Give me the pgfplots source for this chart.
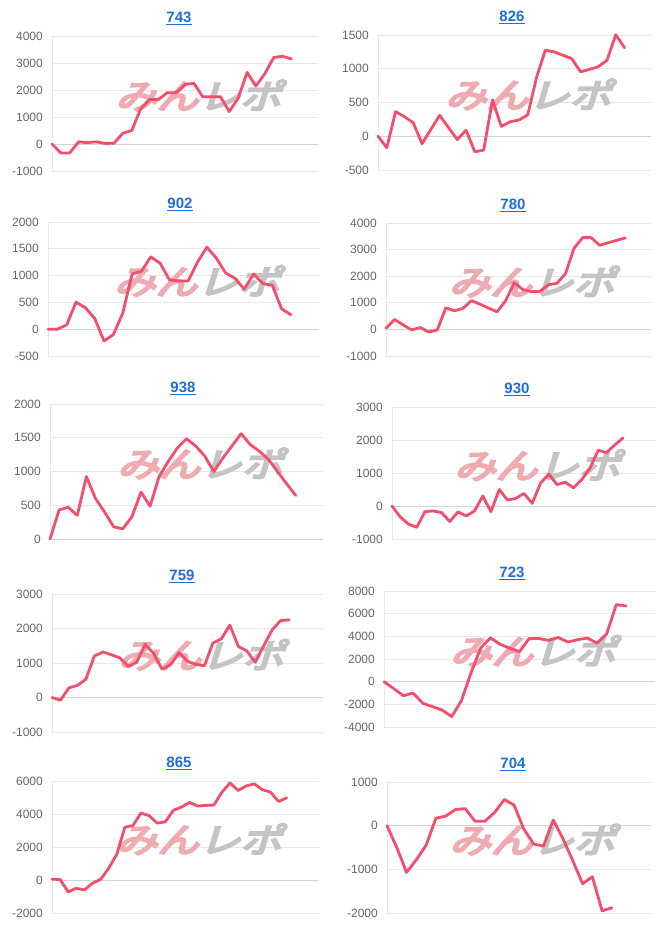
\documentclass[border=0pt]{standalone}
\usepackage{pgfplots}
\pgfplotsset{compat=1.18}
\usepackage{fontspec}
\setmainfont{Liberation Sans}
\newfontfamily\cjk[FakeSlant=0.25,FakeBold=6]{Noto Sans CJK JP}
\definecolor{linec}{RGB}{243,78,108}
\definecolor{gridc}{RGB}{232,232,232}
\definecolor{zeroc}{RGB}{212,212,212}
\definecolor{labelc}{RGB}{102,102,102}
\definecolor{titlec}{RGB}{30,110,215}
\definecolor{wmred}{RGB}{238,172,178}
\definecolor{wmgray}{RGB}{196,196,196}
\pgfplotsset{
  mini/.style={
    scale only axis, anchor=south west, xmin=0,
    axis x line*=bottom, axis y line*=left,
    x axis line style={draw=none},
    y axis line style={-, draw=gridc, line width=0.9pt},
    xtick=\empty,
    ymajorgrids, grid style={draw=gridc, line width=0.9pt},
    major tick length=0pt,
    tick style={draw=none},
    yticklabel style={font=\fontsize{12}{12}\selectfont, text=labelc, inner sep=0pt, xshift=-9pt},
    /pgf/number format/assume math mode=true,
    /pgf/number format/set thousands separator={},
    extra y ticks={0}, extra y tick labels={},
    extra y tick style={grid style={draw=zeroc, line width=0.9pt}},
    clip=false,
  },
  ser/.style={linec, line width=2.8pt, line join=round, line cap=round, mark=none},
}
\newcommand{\wm}{\node[inner sep=0pt, xscale=1.22, font=\fontsize{34}{34}\selectfont] at (rel axis cs:0.55,0.56) {\cjk\textcolor{wmred}{みん}\textcolor{wmgray}{レポ}};}
\newcommand{\ttl}[3]{\node[anchor=base, inner sep=0pt, text=titlec, font=\bfseries\fontsize{15}{15}\selectfont] at (#1pt,#2pt) {\underline{#3}};}
\begin{document}
\begin{tikzpicture}
\path[use as bounding box] (0,0) rectangle (666pt,927pt);
% P1 743
\begin{axis}[mini, at={(52pt,756pt)}, width=266pt, height=135pt, xmax=30, ymin=-1000, ymax=4000, ytick={-1000,0,...,4000}]
\wm
\addplot[ser] coordinates {(0,0)(1,-330)(2,-330)(3,80)(4,50)(5,80)(6,20)(7,30)(8,400)(9,500)(10,1300)(11,1650)(12,1650)(13,1900)(14,1900)(15,2200)(16,2250)(17,1750)(18,1750)(19,1750)(20,1200)(21,1700)(22,2650)(23,2150)(24,2600)(25,3200)(26,3250)(27,3150)};
\end{axis}
% P2 826
\begin{axis}[mini, at={(378pt,757pt)}, width=273pt, height=135pt, xmax=31, ymin=-500, ymax=1500, ytick={-500,0,...,1500}]
\wm
\addplot[ser] coordinates {(0,0)(1,-170)(2,365)(3,290)(4,200)(5,-110)(6,100)(7,310)(8,130)(9,-50)(10,90)(11,-230)(12,-205)(13,540)(14,145)(15,215)(16,240)(17,315)(18,870)(19,1275)(20,1250)(21,1200)(22,1150)(23,955)(24,990)(25,1030)(26,1125)(27,1505)(28,1310)};
\end{axis}
% P3 902
\begin{axis}[mini, at={(48pt,571pt)}, width=271pt, height=134pt, xmax=29, ymin=-500, ymax=2000, ytick={-500,0,...,2000}]
\wm
\addplot[ser] coordinates {(0,0)(1,0)(2,80)(3,505)(4,400)(5,200)(6,-220)(7,-100)(8,300)(9,1030)(10,1080)(11,1350)(12,1230)(13,920)(14,900)(15,900)(16,1250)(17,1530)(18,1330)(19,1050)(20,950)(21,750)(22,1030)(23,850)(24,820)(25,380)(26,270)};
\end{axis}
% P4 780
\begin{axis}[mini, at={(386pt,571pt)}, width=265pt, height=133pt, xmax=31, ymin=-1000, ymax=4000, ytick={-1000,0,...,4000}]
\wm
\addplot[ser] coordinates {(0,50)(1,370)(2,170)(3,-20)(4,70)(5,-100)(6,-20)(7,810)(8,700)(9,790)(10,1080)(11,950)(12,800)(13,660)(14,1080)(15,1760)(16,1500)(17,1420)(18,1430)(19,1680)(20,1730)(21,2100)(22,3050)(23,3450)(24,3450)(25,3160)(26,3260)(27,3350)(28,3440)};
\end{axis}
% P5 938
\begin{axis}[mini, at={(50pt,388pt)}, width=273pt, height=135pt, xmax=30, ymin=0, ymax=2000, ytick={0,500,...,2000}]
\wm
\addplot[ser] coordinates {(0,0)(1,430)(2,470)(3,350)(4,925)(5,600)(6,400)(7,180)(8,150)(9,330)(10,695)(11,485)(12,930)(13,1150)(14,1350)(15,1485)(16,1380)(17,1230)(18,1000)(19,1200)(20,1380)(21,1560)(22,1400)(23,1300)(24,1180)(25,1000)(26,820)(27,645)};
\end{axis}
% P6 930
\begin{axis}[mini, at={(392pt,388pt)}, width=264pt, height=132pt, xmax=32, ymin=-1000, ymax=3000, ytick={-1000,0,...,3000}]
\wm
\addplot[ser] coordinates {(0,0)(1,-330)(2,-550)(3,-645)(4,-170)(5,-150)(6,-200)(7,-470)(8,-180)(9,-300)(10,-150)(11,300)(12,-170)(13,500)(14,180)(15,230)(16,380)(17,80)(18,690)(19,965)(20,650)(21,720)(22,550)(23,800)(24,1150)(25,1690)(26,1620)(27,1850)(28,2060)};
\end{axis}
% P7 759
\begin{axis}[mini, at={(52pt,195pt)}, width=271pt, height=138pt, xmax=32, ymin=-1000, ymax=3000, ytick={-1000,0,...,3000}]
\wm
\addplot[ser] coordinates {(0,0)(1,-80)(2,280)(3,350)(4,530)(5,1200)(6,1320)(7,1240)(8,1150)(9,900)(10,1020)(11,1540)(12,1280)(13,820)(14,950)(15,1300)(16,1050)(17,960)(18,920)(19,1580)(20,1700)(21,2100)(22,1480)(23,1350)(24,1020)(25,1500)(26,1960)(27,2230)(28,2250)};
\end{axis}
% P8 723
\begin{axis}[mini, at={(384pt,200pt)}, width=271pt, height=136pt, xmax=28, ymin=-4000, ymax=8000, ytick={-4000,-2000,...,8000}]
\wm
\addplot[ser] coordinates {(0,0)(1,-600)(2,-1250)(3,-1000)(4,-1900)(5,-2200)(6,-2500)(7,-3080)(8,-1670)(9,800)(10,2990)(11,3870)(12,3300)(13,2950)(14,2650)(15,3810)(16,3800)(17,3650)(18,3900)(19,3500)(20,3700)(21,3850)(22,3400)(23,4200)(24,6800)(25,6680)};
\end{axis}
% P9 865
\begin{axis}[mini, at={(52pt,14pt)}, width=267pt, height=132pt, xmax=33, ymin=-2000, ymax=6000, ytick={-2000,0,...,6000}]
\wm
\addplot[ser] coordinates {(0,50)(1,30)(2,-720)(3,-500)(4,-600)(5,-200)(6,40)(7,700)(8,1550)(9,3200)(10,3300)(11,4060)(12,3900)(13,3450)(14,3520)(15,4220)(16,4420)(17,4700)(18,4480)(19,4520)(20,4540)(21,5320)(22,5880)(23,5430)(24,5700)(25,5830)(26,5470)(27,5330)(28,4760)(29,4980)};
\end{axis}
% P10 704
\begin{axis}[mini, at={(387pt,14pt)}, width=264pt, height=131pt, xmax=27, ymin=-2000, ymax=1000, ytick={-2000,-1000,...,1000}]
\wm
\addplot[ser] coordinates {(0,0)(1,-500)(2,-1070)(3,-780)(4,-450)(5,170)(6,220)(7,370)(8,390)(9,100)(10,100)(11,300)(12,600)(13,470)(14,-80)(15,-420)(16,-470)(17,130)(18,-300)(19,-800)(20,-1330)(21,-1170)(22,-1950)(23,-1880)};
\end{axis}
\ttl{179}{904.3}{743}
\ttl{512}{905.3}{826}
\ttl{180}{718.3}{902}
\ttl{513}{717}{780}
\ttl{183}{534.3}{938}
\ttl{517}{533}{930}
\ttl{182}{346.2}{759}
\ttl{512}{349.3}{723}
\ttl{179}{159}{865}
\ttl{513}{158.5}{704}
\end{tikzpicture}
\end{document}
